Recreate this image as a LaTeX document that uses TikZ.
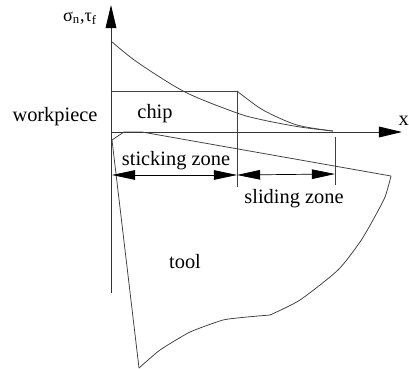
\documentclass[tikz,border=0pt]{standalone}
\usepackage{fontspec}
\setmainfont{Liberation Serif}
\usetikzlibrary{arrows.meta}
\tikzset{
  lbl/.style={inner sep=0pt, anchor=base, font=\fontsize{14.5}{14.5}\selectfont},
  edge/.style={draw=black!75, line width=0.55pt},
  axis/.style={draw=black!80, line width=0.6pt, -{Triangle[length=0.58cm,width=0.27cm,fill=black,color=black]}},
  zone/.style={draw=black, line width=0.5pt, {Triangle[length=0.58cm,width=0.24cm]}-{Triangle[length=0.58cm,width=0.24cm]}},
}
\begin{document}
\begin{tikzpicture}[x=0.025cm,y=-0.025cm]
  \useasboundingbox (0,0) rectangle (409,369);
  \coordinate (origin) at (111,293);
  \coordinate (ytip) at (111,5);
  \coordinate (xstart) at (111,132);
  \coordinate (xtip) at (402,132);
  \draw[axis] (origin) -- (ytip);
  \draw[axis] (xstart) -- (xtip);
  % chip
  \coordinate (chiptl) at (111,91);
  \coordinate (chiptr) at (237,91);
  \coordinate (chipb) at (237,187);
  \draw[edge] (chiptl) -- (chiptr) -- (chipb);
  \coordinate (sep) at (335,137);
  \coordinate (sepb) at (335,185);
  \draw[edge] (sep) -- (sepb);
  % stress curves
  \coordinate (peak) at (333,131);
  \draw[edge] plot[smooth, tension=0.5] coordinates {(111,41) (137,62) (185,92) (237,113) (263,120) (300,127) (peak)};
  \draw[edge] plot[smooth, tension=0.5] coordinates {(chiptr) (263,110) (297,125) (peak)};
  % tool
  \coordinate (nose) at (112,140);
  \coordinate (toolr) at (391,176);
  \coordinate (toolb) at (139,368);
  \coordinate (toolm) at (270,315);
  \draw[edge] (nose) -- (124,132) -- (142,132) -- (toolr);
  \draw[edge] plot[smooth, tension=0.4] coordinates {(toolr) (385,197) (373,220) (360,242) (338,270) (300,300) (toolm)};
  \draw[edge] plot[smooth, tension=0.3] coordinates {(toolm) (247,317) (223,320) (190,332) (160,350) (toolb)};
  \draw[edge] (toolb) -- (nose);
  % zones
  \coordinate (stick) at (112,175);
  \coordinate (stickr) at (237,175);
  \coordinate (slider) at (335,174);
  \draw[zone] (stick) -- (stickr);
  \draw[zone] (stickr) -- (slider);
  % labels
  \node[lbl] (workpiece) at (55,121) {workpiece};
  \node[lbl] (chip) at (155,118) {chip};
  \node[lbl] (stickzone) at (176,165) {sticking zone};
  \node[lbl] (slidezone) at (294,203) {sliding zone};
  \node[lbl] (tool) at (185,268) {tool};
  \node[lbl, font=\fontsize{13}{13}\selectfont] (stress) at (80,21) {σ\textsubscript{n},τ\textsubscript{f}};
  \node[lbl, anchor=base east] (xlabel) at (409,125) {x};
\end{tikzpicture}
\end{document}
